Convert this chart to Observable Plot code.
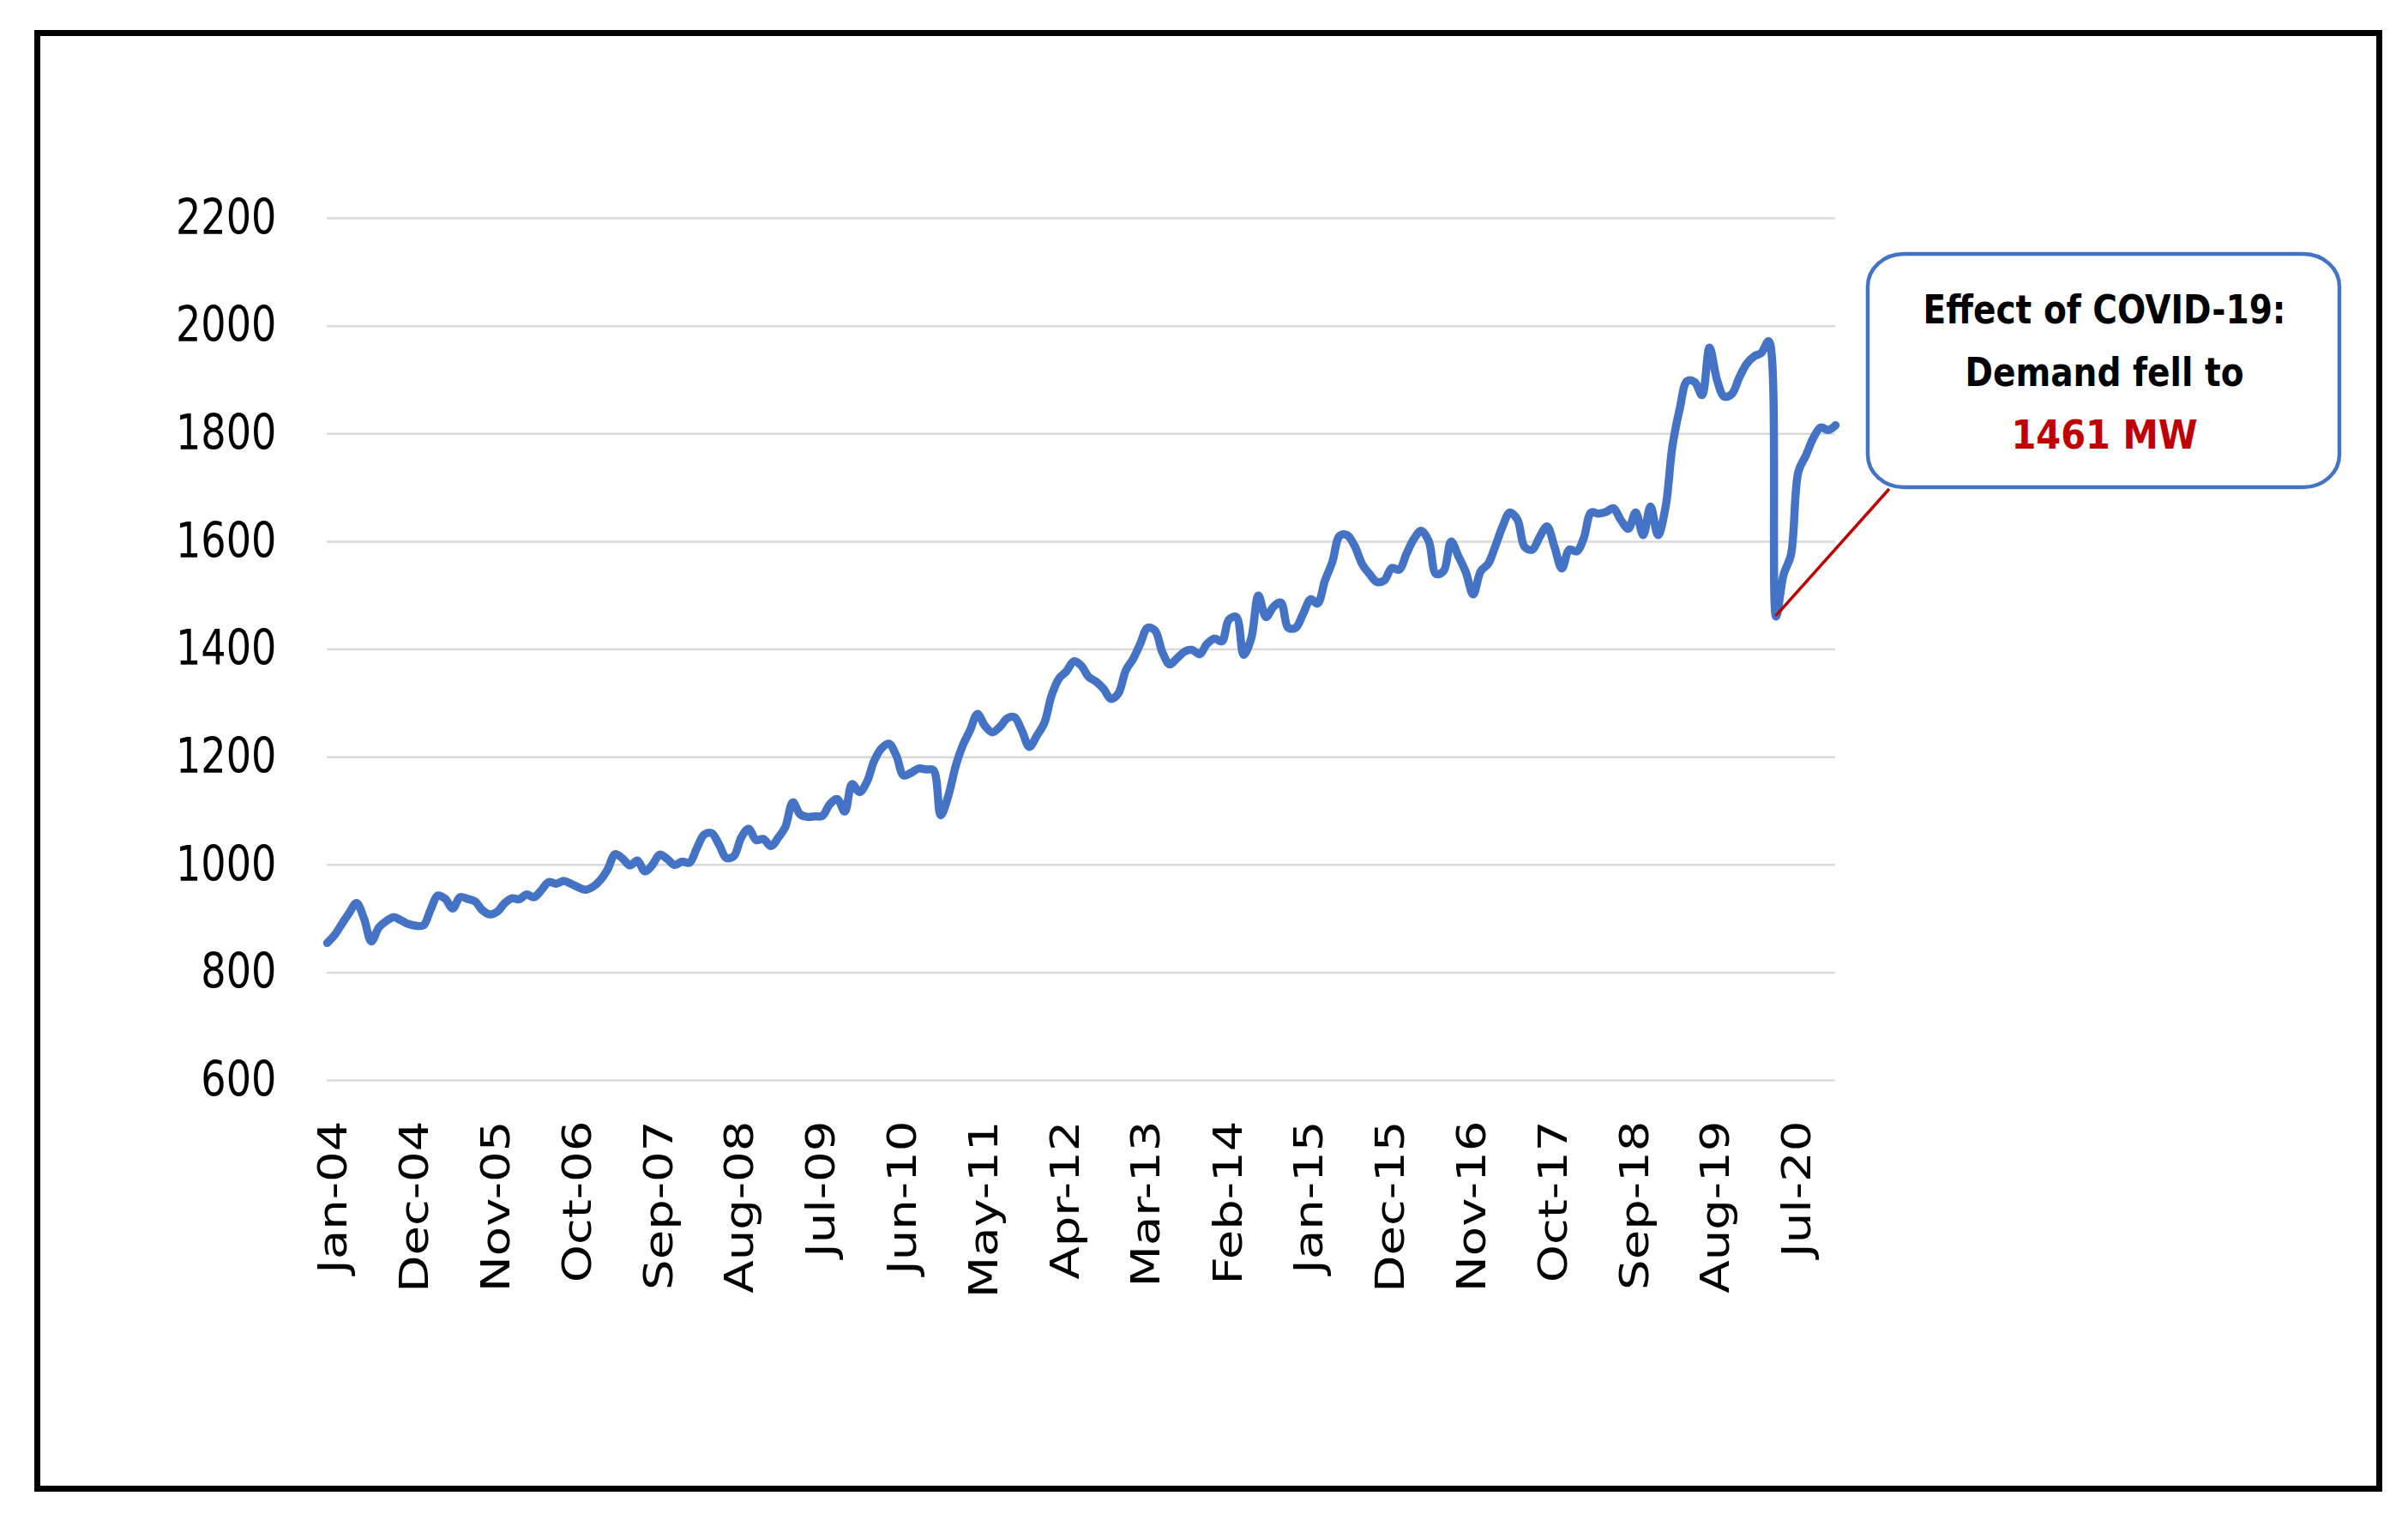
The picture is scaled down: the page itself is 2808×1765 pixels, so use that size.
<!DOCTYPE html>
<html><head><meta charset="utf-8">
<script src="https://cdn.jsdelivr.net/npm/d3@7"></script>
<script src="https://cdn.jsdelivr.net/npm/@observablehq/plot@0.6"></script>
<style>html,body{margin:0;padding:0;background:#fff;} #chart svg{display:block}</style>
</head><body><div id="chart"></div>
<script>
// Monthly peak demand (MW), Jan-04 onward
const startMonth = "2004-01";
const demand = [
  855, 870, 890, 911, 929, 900, 858, 884, 896, 903, 897, 890,
  887, 888, 916, 943, 937, 919, 940, 937, 932, 916, 908, 913,
  929, 938, 936, 945, 940, 953, 968, 965, 970, 965, 958, 954,
  960, 973, 992, 1020, 1012, 999, 1008, 988, 1000, 1019, 1011, 1000,
  1006, 1004, 1030, 1056, 1059, 1038, 1013, 1016, 1051, 1067, 1046, 1048,
  1035, 1051, 1070, 1116, 1094, 1089, 1090, 1091, 1113, 1122, 1099, 1150,
  1135, 1155, 1192, 1216, 1225, 1203, 1166, 1171, 1179, 1177, 1176, 1092,
  1128, 1184, 1221, 1250, 1280, 1258, 1246, 1256, 1272, 1274, 1248, 1219,
  1240, 1264, 1314, 1346, 1359, 1378, 1370, 1349, 1340, 1327, 1308, 1318,
  1361, 1383, 1410, 1440, 1435, 1394, 1372, 1384, 1396, 1399, 1391, 1410,
  1420, 1415, 1455, 1460, 1390, 1420, 1500, 1460, 1479, 1487, 1440, 1440,
  1466, 1493, 1485, 1528, 1562, 1611, 1612, 1592, 1558, 1540, 1525, 1528,
  1551, 1548, 1577, 1605, 1620, 1601, 1540, 1545, 1600, 1573, 1543, 1502,
  1545, 1559, 1590, 1628, 1654, 1641, 1590, 1585, 1609, 1628, 1590, 1550,
  1585, 1582, 1606, 1654, 1652, 1655, 1662, 1640, 1624, 1654, 1612, 1665,
  1612, 1664, 1776, 1848, 1898, 1896, 1872, 1960, 1900, 1869, 1874, 1904,
  1930, 1944, 1950, 1972, 1461, 1539, 1575, 1730, 1760, 1792, 1812, 1807,
  1816
];
const tickLabels = ["Jan-04","Dec-04","Nov-05","Oct-06","Sep-07","Aug-08","Jul-09","Jun-10","May-11","Apr-12",
  "Mar-13","Feb-14","Jan-15","Dec-15","Nov-16","Oct-17","Sep-18","Aug-19","Jul-20"];
const yTicks = [600, 800, 1000, 1200, 1400, 1600, 1800, 2000, 2200];
const calloutLines = ["Effect of COVID-19:", "Demand fell to"];
const covidLow = 1461;
const calloutValue = covidLow + " MW";

const start = d3.utcParse("%Y-%m")(startMonth);
const data = demand.map((v, i) => ({date: d3.utcMonth.offset(start, i), value: v}));
const tickDates = tickLabels.map(d3.utcParse("%b-%y"));
const fmt = d3.utcFormat("%b-%y");

const W = 2808, H = 1765;
const plot = Plot.plot({
  width: W, height: H,
  marginLeft: 381, marginRight: 668, marginTop: 254, marginBottom: 506,
  style: {fontFamily: "'DejaVu Sans', Verdana, sans-serif", fontSize: "46px", color: "#000", background: "#fff", overflow: "visible"},
  x: {type: "utc", domain: [data[0].date, data[data.length - 1].date], label: null},
  y: {domain: [600, 2200], label: null},
  marks: [
    Plot.gridY(yTicks, {stroke: "#d9d9d9", strokeOpacity: 1, strokeWidth: 2.5}),
    Plot.axisY(yTicks, {tickSize: 0, tickPadding: 59, fontSize: 57, label: null, tickFormat: d => String(d)}),
    Plot.axisX(tickDates, {tickSize: 0, tickPadding: 47, tickRotate: -90, tickFormat: fmt, fontSize: 46, label: null, dx: 8}),
    Plot.lineY(data, {x: "date", y: "value", stroke: "#4472C4", strokeWidth: 9.5, curve: "catmull-rom", strokeLinejoin: "round", strokeLinecap: "round"})
  ]
});
document.getElementById("chart").appendChild(plot);

// tick labels in the reference are stretched vertically: adjust their lengths
function fitText(nodes, factor) {
  nodes.forEach(t => {
    const L = t.getComputedTextLength();
    if (L > 0) { t.setAttribute("textLength", L * factor); t.setAttribute("lengthAdjust", "spacingAndGlyphs"); }
  });
}
fitText(plot.querySelectorAll('g[aria-label="y-axis tick label"] text'), 0.81);
fitText(plot.querySelectorAll('g[aria-label="x-axis tick label"] text'), 1.22);

const svg = d3.select(plot);
const xs = plot.scale("x"), ys = plot.scale("y");
const low = data.find(d => d.value === covidLow);
const px = xs.apply(low.date), py = ys.apply(low.value);

// callout box
const box = {x: 2178, y: 296, w: 550, h: 272};
svg.append("line").attr("x1", px).attr("y1", py).attr("x2", box.x + 25).attr("y2", box.y + box.h + 2)
  .attr("stroke", "#C00000").attr("stroke-width", 3.5);
svg.append("rect").attr("x", box.x).attr("y", box.y).attr("width", box.w).attr("height", box.h)
  .attr("rx", 42).attr("ry", 38).attr("fill", "#fff").attr("stroke", "#4472C4").attr("stroke-width", 4.5);
const cx = 2454;
const tf = "'Liberation Sans Narrow', 'DejaVu Sans Condensed', 'Liberation Sans', sans-serif";
const lines = [
  {t: calloutLines[0], y: 377, len: 423, c: "#000"},
  {t: calloutLines[1], y: 450, len: 325, c: "#000"},
  {t: calloutValue, y: 523, len: 217, c: "#C00000"}
];
lines.forEach(l => {
  svg.append("text").attr("x", cx).attr("y", l.y).attr("text-anchor", "middle")
    .attr("font-family", tf).attr("font-weight", "bold").attr("font-size", 46)
    .attr("fill", l.c).attr("textLength", l.len).attr("lengthAdjust", "spacingAndGlyphs").text(l.t);
});

// outer frame
svg.append("rect").attr("x", 43.5).attr("y", 38.5).attr("width", 2731).attr("height", 1697)
  .attr("fill", "none").attr("stroke", "#000").attr("stroke-width", 7);
</script>
</body></html>
